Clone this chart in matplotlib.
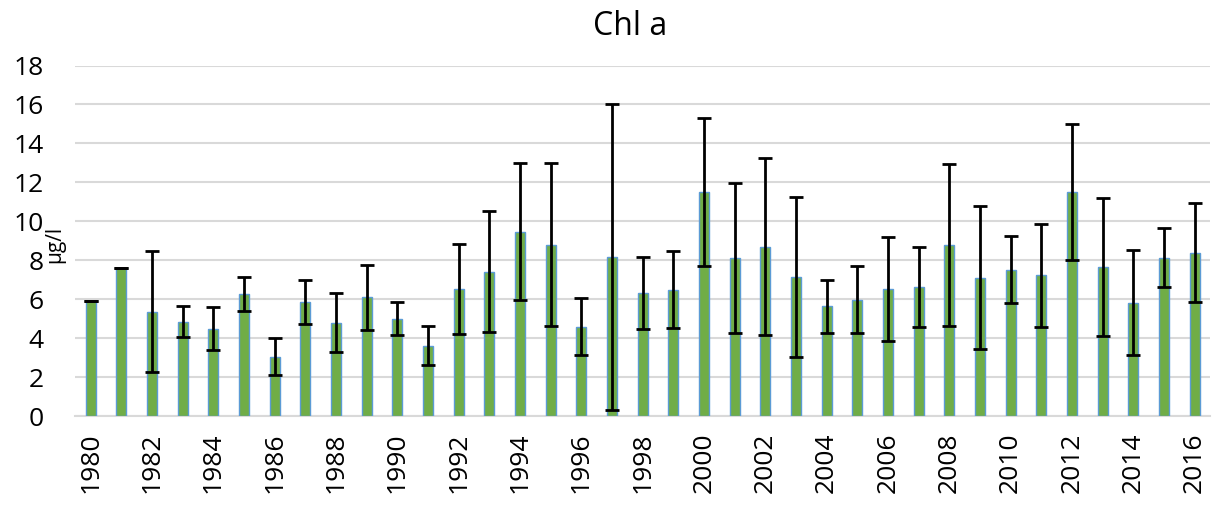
import numpy as np
import matplotlib.pyplot as plt

years = list(range(1980, 2017))
chl_mean = [5.91, 7.59, 5.36, 4.85, 4.49, 6.27, 3.05, 5.86, 4.80, 6.10,
            5.00, 3.60, 6.54, 7.42, 9.47, 8.80, 4.59, 8.15, 6.30, 6.49,
            11.51, 8.12, 8.70, 7.14, 5.65, 5.98, 6.54, 6.63, 8.77, 7.11,
            7.52, 7.23, 11.49, 7.66, 5.81, 8.14, 8.39]
chl_err = [0.0, 0.0, 3.10, 0.78, 1.10, 0.87, 0.95, 1.15, 1.50, 1.66,
           0.84, 1.00, 2.31, 3.12, 3.50, 4.20, 1.47, 7.85, 1.85, 1.98,
           3.80, 3.87, 4.55, 4.10, 1.36, 1.72, 2.68, 2.05, 4.15, 3.67,
           1.72, 2.64, 3.50, 3.53, 2.70, 1.52, 2.53]

plt.rcParams['font.family'] = ['Open Sans', 'DejaVu Sans']

fig = plt.figure(figsize=(12.16, 5.08), dpi=100)
ax = fig.add_axes([0.062, 0.181, 0.933, 0.690])

x = np.arange(len(years))
ax.bar(x, chl_mean, width=0.33, color="#70AD47", edgecolor="#5B9BD5",
       linewidth=1.0, zorder=3)
ax.errorbar(x, chl_mean, yerr=chl_err, fmt="none", ecolor="black",
            elinewidth=2, capsize=5, capthick=2, zorder=4)

ax.set_xlim(-0.5, len(years) - 0.5)
ax.set_ylim(0, 18)
ax.set_yticks(range(0, 19, 2))
ax.set_xticks(x[::2])
ax.set_xticklabels([str(y) for y in years[::2]], rotation=90, fontsize=19)
ax.tick_params(axis="y", labelsize=19, length=0, pad=23)
ax.tick_params(axis="x", length=0, pad=12)

ax.grid(axis="y", color="#D9D9D9", linewidth=1.5, zorder=0)
for s in ["top", "right", "left"]:
    ax.spines[s].set_visible(False)
ax.spines["bottom"].set_color("#D9D9D9")
ax.spines["bottom"].set_linewidth(1.5)

# unit label sits between tick labels and plot area
ax.set_ylabel("µg/l", fontsize=15)
ax.yaxis.set_label_coords(-0.009, 0.49)
ax.set_title("Chl a", fontsize=23, pad=22, x=0.489)

fig.savefig("out.png", dpi=100)
